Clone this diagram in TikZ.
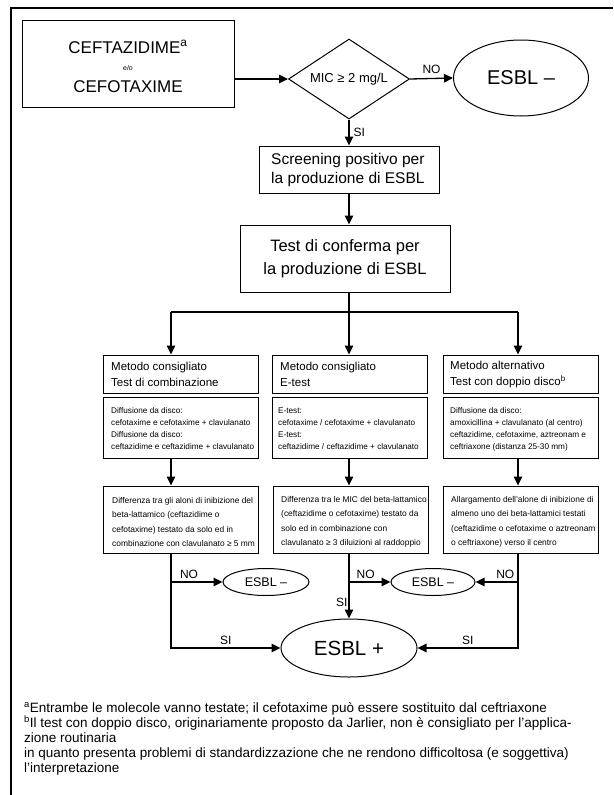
\documentclass[tikz,border=0pt]{standalone}
\usepackage{fontspec}
\setmainfont{Liberation Sans}
\usetikzlibrary{arrows.meta,shapes.geometric}
\begin{document}
\begin{tikzpicture}[x=1pt,y=-1pt,
  box/.style={draw,line width=0.9pt,rectangle,inner sep=0pt},
  con/.style={line width=1.3pt},
  arr/.style={con,-{Triangle[length=9pt,width=8.5pt]}},
  txt/.style={inner sep=0pt,align=left},
  lab/.style={inner sep=0pt,font=\fontsize{12}{14}\selectfont},
  ell/.style={draw,ellipse,line width=1pt,inner sep=0pt},
  hdr/.style={txt,anchor=west,font=\fontsize{11.5}{16}\selectfont},
  cnt/.style={txt,anchor=west,font=\fontsize{8.2}{12}\selectfont},
  res/.style={txt,anchor=west,font=\fontsize{8.4}{14.5}\selectfont}]
\useasboundingbox (0,0) rectangle (613,795);
\draw[line width=1.3pt] (11,795) -- (11,8) -- (613,8);

% top row
\node[box,minimum width=212pt,minimum height=87pt] (ceft) at (128,63.5) {};
\node[inner sep=0pt,anchor=base,font=\fontsize{17}{19}\selectfont] (ceftA) at (128,53) {CEFTAZIDIME\textsuperscript{a}};
\node[inner sep=0pt,anchor=base,font=\fontsize{7}{8}\selectfont] (ceftB) at (128,70.5) {e/o};
\node[inner sep=0pt,anchor=base,font=\fontsize{17}{19}\selectfont] (ceftC) at (128,92) {CEFOTAXIME};

\node[draw,diamond,line width=1pt,minimum width=121pt,minimum height=80pt,inner sep=0pt] (dia) at (349,79) {};
\node[inner sep=0pt,font=\fontsize{13}{15}\selectfont] (diat) at (349,79) {MIC ≥ 2 mg/L};

\node[ell,minimum width=135pt,minimum height=76pt,font=\fontsize{20}{22}\selectfont] (entop) at (521,78) {ESBL –};

\node[box,minimum width=180pt,minimum height=47pt] (scr) at (349,169.5) {};
\node[txt,anchor=west,font=\fontsize{15.5}{19}\selectfont] (scrt) at (271,170) {Screening positivo per\\la produzione di ESBL};

\node[box,minimum width=210pt,minimum height=67pt,align=center,font=\fontsize{16.5}{23}\selectfont] (conf) at (345,258.5) {Test di conferma per\\la produzione di ESBL};

\draw[arr] (ceft.east |- dia.west) -- (dia.west);
\draw[arr] (dia.east) -- node[lab,above=4pt] (no0) {NO} (entop.west);
\draw[arr] (dia.south) -- node[lab,right=4pt] (si0) {SI} (scr.north);
\draw[arr] (scr.south) -- (scr.south |- conf.north);

% branch
\coordinate (br) at (349,312);
\coordinate (b1) at (171,312);
\coordinate (b3) at (518,312);
\draw[con] (conf.south -| br) -- (br);
\draw[con] (b1) -- (b3);

% headers
\node[box,minimum width=155pt,minimum height=38pt] (h1) at (181,374) {};
\node[box,minimum width=155pt,minimum height=38pt] (h2) at (350,374) {};
\node[box,minimum width=155pt,minimum height=38pt] (h3) at (520.5,374) {};
\node[hdr] (h1t) at (111,374.5) {Metodo consigliato\\Test di combinazione};
\node[hdr] (h2t) at (280,374.5) {Metodo consigliato\\E-test};
\node[hdr] (h3t) at (450,374.5) {Metodo alternativo\\Test con doppio disco\textsuperscript{b}};
\draw[arr] (b1) -- (b1 |- h1.north);
\draw[arr] (br) -- (br |- h2.north);
\draw[arr] (b3) -- (b3 |- h3.north);

% content
\node[box,minimum width=155pt,minimum height=61pt] (c1) at (181,427.5) {};
\node[box,minimum width=155pt,minimum height=61pt] (c2) at (350,427.5) {};
\node[box,minimum width=155pt,minimum height=61pt] (c3) at (520.5,427.5) {};
\node[cnt] (c1t) at (111,429) {Diffusione da disco:\\cefotaxime e cefotaxime + clavulanato\\Diffusione da disco:\\ceftazidime e ceftazidime + clavulanato};
\node[cnt] (c2t) at (278,429) {E-test:\\cefotaxime / cefotaxime + clavulanato\\E-test:\\ceftazidime / ceftazidime + clavulanato};
\node[cnt] (c3t) at (450,429) {Diffusione da disco:\\amoxicillina + clavulanato (al centro)\\ceftazidime, cefotaxime, aztreonam e\\ceftriaxone (distanza 25-30 mm)};

% results
\node[box,minimum width=155pt,minimum height=67pt] (r1) at (181,519.5) {};
\node[box,minimum width=155pt,minimum height=67pt] (r2) at (350.5,519.5) {};
\node[box,minimum width=155pt,minimum height=67pt] (r3) at (520.5,519.5) {};
\node[res] (r1t) at (112,522) {Differenza tra gli aloni di inibizione del\\beta-lattamico (ceftazidime o\\cefotaxime) testato da solo ed in\\combinazione con clavulanato ≥ 5 mm};
\node[res] (r2t) at (281,522) {Differenza tra le MIC del beta-lattamico\\(ceftazidime o cefotaxime) testato da\\solo ed in combinazione con\\clavulanato ≥ 3 diluizioni al raddoppio};
\node[res] (r3t) at (451,522) {Allargamento dell’alone di inibizione di\\almeno uno dei beta-lattamici testati\\(ceftazidime o cefotaxime o aztreonam\\o ceftriaxone) verso il centro};

\draw[arr] (c1.south -| b1) -- (r1.north -| b1);
\draw[arr] (c2.south -| br) -- (r2.north -| br);
\draw[arr] (c3.south -| b3) -- (r3.north -| b3);

% outcomes
\node[ell,minimum width=86pt,minimum height=27pt,font=\fontsize{12.5}{14}\selectfont] (en1) at (266,582) {ESBL –};
\node[ell,minimum width=84pt,minimum height=27pt,font=\fontsize{12.5}{14}\selectfont] (en2) at (433,582) {ESBL –};
\node[ell,minimum width=136pt,minimum height=58pt,font=\fontsize{20.5}{22}\selectfont] (ep) at (349,648) {ESBL +};

\draw[arr] (r1.south -| b1) |- node[lab,pos=0.75,above=3pt] (si1) {SI} (ep.west);
\draw[arr] (b1 |- en1.west) -- node[lab,pos=0.35,above=3pt] (no1) {NO} (en1.west);
\draw[arr] (r2.south -| br) -- node[lab,pos=0.75,left=1pt] (si2) {SI} (ep.north);
\draw[arr] (br |- en2.west) -- node[lab,pos=0.4,above=3pt] (no2) {NO} (en2.west);
\draw[arr] (r3.south -| b3) |- node[lab,pos=0.75,above=3pt] (si3) {SI} (ep.east);
\draw[arr] (b3 |- en2.east) -- node[lab,pos=0.3,above=3pt] (no3) {NO} (en2.east);

% footnotes
\node[txt,anchor=north west,font=\fontsize{13.5}{15}\selectfont] (foot) at (24,702) {\textsuperscript{a}Entrambe le molecole vanno testate; il cefotaxime può essere sostituito dal ceftriaxone\\
\textsuperscript{b}Il test con doppio disco, originariamente proposto da Jarlier, non è consigliato per l’applica-\\
zione routinaria\\
in quanto presenta problemi di standardizzazione che ne rendono difficoltosa (e soggettiva)\\
l’interpretazione};
\end{tikzpicture}
\end{document}
